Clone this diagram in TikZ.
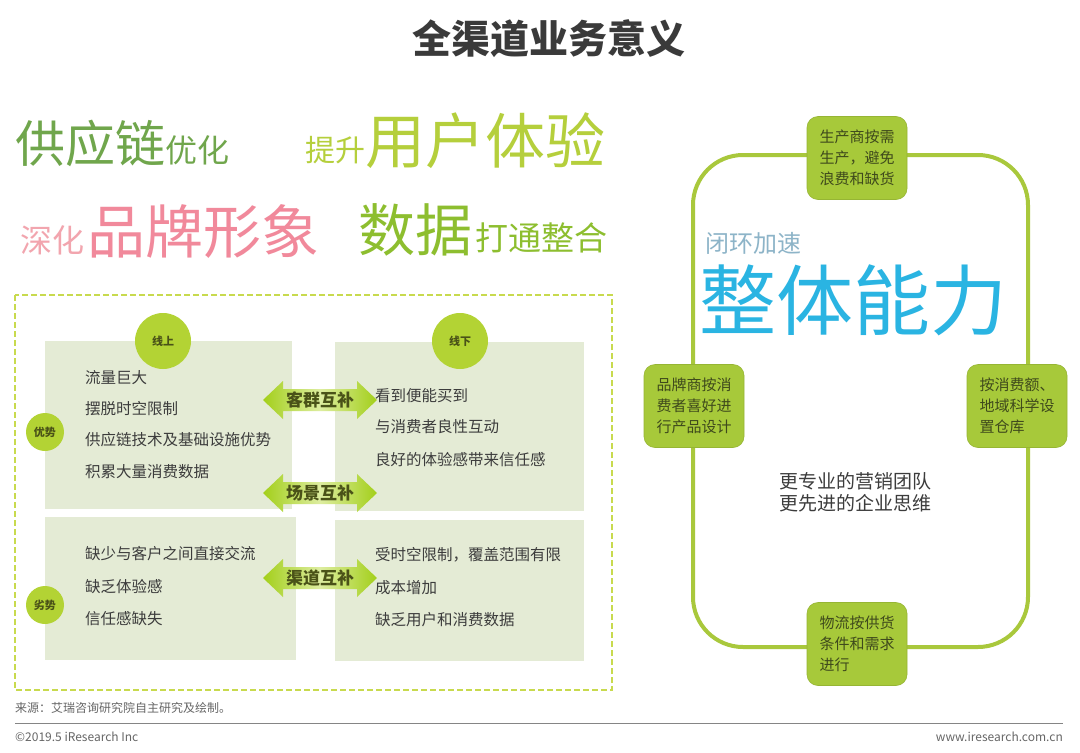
\documentclass[tikz,border=0pt]{standalone}
\usepackage{fontspec}
\setmainfont{Noto Sans CJK SC}
\usetikzlibrary{calc}
\definecolor{titlec}{HTML}{3A3A3A}
\definecolor{gA}{HTML}{70A64C}
\definecolor{yA}{HTML}{B5CF3C}
\definecolor{pA}{HTML}{F1899B}
\definecolor{pB}{HTML}{F2A5AE}
\definecolor{dA}{HTML}{8DBE2F}
\definecolor{dashc}{HTML}{C8DA4E}
\definecolor{panelc}{HTML}{E4EBD5}
\definecolor{circc}{HTML}{B3D334}
\definecolor{olive}{HTML}{4A5218}
\definecolor{txt}{HTML}{3C3C3C}
\definecolor{arrc}{HTML}{A3CF1A}
\definecolor{arrl}{HTML}{DDEDA0}
\definecolor{ringc}{HTML}{A9C83C}
\definecolor{boxc}{HTML}{A7C93A}
\definecolor{boxt}{HTML}{3F4A1C}
\definecolor{cyanc}{HTML}{2AB4E2}
\definecolor{grayblue}{HTML}{8DB4C8}
\definecolor{foot}{HTML}{666666}
\newcommand\fsz[1]{\fontsize{#1}{#1}\selectfont}
\begin{document}
\begin{tikzpicture}[x=1pt,y=-1pt,
  word/.style={anchor=base west,inner sep=0pt},
  panel/.style={fill=panelc,anchor=north west,inner sep=0pt},
  dot/.style={circle,fill=circc,inner sep=0pt,text=olive},
  item/.style={anchor=west,inner sep=0pt,text=txt,font=\fsz{15.5}},
  arrlabel/.style={inner sep=0pt,text=olive,font=\bfseries\fsz{17}},
  gbox/.style={fill=boxc,draw=boxc!90!black,line width=0.6pt,rounded corners=11pt,minimum width=100pt,minimum height=83pt,inner sep=0pt,text=boxt,align=left,font=\fontsize{15}{21}\selectfont},
  ring/.style={draw=ringc,line width=4pt,rounded corners=50pt},
  footer/.style={inner sep=0pt,text=foot,font=\fsz{12}}
]
\useasboundingbox[fill=white] (0,0) rectangle (1080,753);

% title
\node[inner sep=0pt,text=titlec,font=\bfseries\fsz{39}] (title) at (549,39) {全渠道业务意义};

% word cloud
\node[word,text=gA,font=\fsz{50}] (w1) at (15,162) {供应链};
\node[word,text=gA,font=\fsz{32}] (w1b) at (165,162) {优化};
\node[word,text=yA,font=\fsz{30}] (w2a) at (305,161) {提升};
\node[word,text=yA,font=\fsz{60}] (w2) at (365,163) {用户体验};
\node[word,text=pB,font=\fsz{32}] (w3a) at (20,252) {深化};
\node[word,text=pA,font=\fsz{58}] (w3) at (87,253) {品牌形象};
\node[word,text=dA,font=\fsz{57}] (w4) at (358,251) {数据};
\node[word,text=dA,font=\fsz{33}] (w4b) at (475,250) {打通整合};

% dashed frame
\draw[dashc,line width=2pt,dash pattern=on 6pt off 3pt] (15,295) rectangle (612,690);

% panels
\node[panel,minimum width=247pt,minimum height=168pt] (tl) at (45,341) {};
\node[panel,minimum width=249pt,minimum height=169pt] (tr) at (335,342) {};
\node[panel,minimum width=251pt,minimum height=143pt] (bl) at (45,517) {};
\node[panel,minimum width=249pt,minimum height=141pt] (br) at (335,520) {};

% circles
\node[dot,minimum size=56pt,font=\bfseries\fsz{11}] (online) at (163,341) {线上};
\node[dot,minimum size=56pt,font=\bfseries\fsz{11}] (offline) at (460,341) {线下};
\node[dot,minimum size=38pt,font=\bfseries\fsz{11}] (adv) at (45,432) {优势};
\node[dot,minimum size=38pt,font=\bfseries\fsz{11}] (dis) at (45,605) {劣势};

% lists
\node[item] (a1) at (85,378) {流量巨大};
\node[item] (a2) at (85,409) {摆脱时空限制};
\node[item] (a3) at (85,440) {供应链技术及基础设施优势};
\node[item] (a4) at (85,472) {积累大量消费数据};
\node[item] (b1) at (375,396) {看到便能买到};
\node[item] (b2) at (375,427) {与消费者良性互动};
\node[item] (b3) at (375,460) {良好的体验感带来信任感};
\node[item] (c1) at (85,554) {缺少与客户之间直接交流};
\node[item] (c2) at (85,587) {缺乏体验感};
\node[item] (c3) at (85,619) {信任感缺失};
\node[item] (d1) at (375,555) {受时空限制，覆盖范围有限};
\node[item] (d2) at (375,588) {成本增加};
\node[item] (d3) at (375,620) {缺乏用户和消费数据};

% double arrows
\foreach \n/\cy/\lab in {ar1/400/客群互补, ar2/493/场景互补, ar3/578/渠道互补}{
  \coordinate (\n) at (320,\cy);
  \shade[left color=arrc,right color=arrc,middle color=arrl]
    ($(\n)+(-57,0)$) -- ++(20,-19) -- ++(0,8) -- ++(74,0) -- ++(0,-8) -- ++(20,19)
    -- ++(-20,19) -- ++(0,-8) -- ++(-74,0) -- ++(0,8) -- cycle;
  \node[arrlabel] (\n-l) at (\n) {\lab};
}

% right: ring and boxes
\draw[ring] (693,155) rectangle (1028,647);
\node[gbox] (bt) at (857,158) {生产商按需\\生产，避免\\浪费和缺货};
\node[gbox] (bleft) at (694,406) {品牌商按消\\费者喜好进\\行产品设计};
\node[gbox] (bright) at (1017,406) {按消费额、\\地域科学设\\置仓库};
\node[gbox] (bb) at (857,644) {物流按供货\\条件和需求\\进行};

\node[word,text=grayblue,font=\fsz{24}] (loop) at (705,252) {闭环加速};
\node[word,text=cyanc,font=\fsz{77}] (whole) at (699,329) {整体能力};
\node[inner sep=0pt,text=txt,align=center,font=\fontsize{19}{22}\selectfont] (center) at (855,492) {更专业的营销团队\\更先进的企业思维};

% footer
\node[footer,anchor=west] (src) at (15,708) {来源：艾瑞咨询研究院自主研究及绘制。};
\coordinate (fl) at (15,723);
\coordinate (fr) at (1063,723);
\draw[foot!80,line width=1pt] (fl) -- (fr);
\node[footer,anchor=west] (copy) at (15,737) {©2019.5 iResearch Inc};
\node[footer,anchor=east] (web) at (1063,737) {www.iresearch.com.cn};
\end{tikzpicture}
\end{document}
